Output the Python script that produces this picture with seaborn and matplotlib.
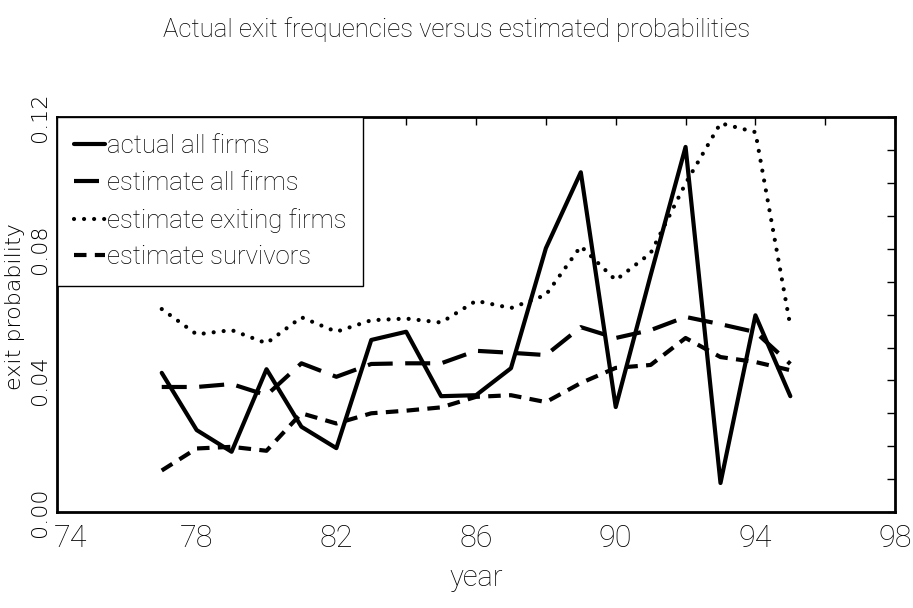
import numpy as np
import pandas as pd
import matplotlib
matplotlib.use("Agg")
import matplotlib.pyplot as plt
import matplotlib.transforms as mtransforms
from matplotlib.ticker import MultipleLocator, FormatStrFormatter
import seaborn as sns

# data
years = list(range(77, 96))
actual_all = [0.0423, 0.0249, 0.0183, 0.0434, 0.0259, 0.0194, 0.0523, 0.0548, 0.0352, 0.0355,
              0.0437, 0.0802, 0.1033, 0.0319, 0.0720, 0.1110, 0.0088, 0.0598, 0.0352]
estimate_all = [0.0380, 0.0380, 0.0389, 0.0355, 0.0452, 0.0411, 0.0450, 0.0452, 0.0452, 0.0490,
                0.0484, 0.0477, 0.0562, 0.0529, 0.0553, 0.0593, 0.0571, 0.0547, 0.0450]
estimate_exiting = [0.0617, 0.0540, 0.0553, 0.0513, 0.0592, 0.0548, 0.0583, 0.0588, 0.0576, 0.0642,
                    0.0620, 0.0660, 0.0808, 0.0705, 0.0787, 0.0999, 0.1182, 0.1155, 0.0565]
estimate_surv = [0.0126, 0.0193, 0.0198, 0.0186, 0.0300, 0.0269, 0.0300, 0.0308, 0.0318, 0.0350,
                 0.0355, 0.0334, 0.0392, 0.0438, 0.0447, 0.0529, 0.0471, 0.0456, 0.0431]

series_names = ["actual all firms", "estimate all firms",
                "estimate exiting firms", "estimate survivors"]
series_values = [actual_all, estimate_all, estimate_exiting, estimate_surv]
x_ticklabels = ["74", "78", "82", "86", "90", "94", "98"]

sns.set_style("white")
plt.rcParams["font.family"] = ["Roboto", "DejaVu Sans"]
plt.rcParams["font.weight"] = "light"
plt.rcParams["text.color"] = "black"
plt.rcParams["xtick.color"] = "black"
plt.rcParams["ytick.color"] = "black"

fig = plt.figure(figsize=(9.13, 6.08), dpi=100)
ax = fig.add_axes([0.0624, 0.158, 0.918, 0.649])

styles = [
    dict(linestyle="-"),
    dict(dashes=(6, 3)),
    dict(dashes=(0.01, 2.4)),
    dict(dashes=(3, 2)),
]
for name, vals, st in zip(series_names, series_values, styles):
    df = pd.DataFrame({"year": years, "value": vals})
    sns.lineplot(data=df, x="year", y="value", ax=ax, color="black",
                 linewidth=3, label=name, **st)

lines = ax.get_lines()
lines[2].set_dash_capstyle("round")
lines[2].set_linewidth(3)

ax.set_xlim(74, 98)
ax.set_ylim(0, 0.12)
ax.xaxis.set_minor_locator(MultipleLocator(2))
ax.set_xticks([74 + 4 * i for i in range(len(x_ticklabels))])
ax.set_xticklabels(x_ticklabels)
ax.yaxis.set_major_locator(MultipleLocator(0.04))
ax.yaxis.set_minor_locator(MultipleLocator(0.01))
ax.yaxis.set_major_formatter(FormatStrFormatter("%.2f"))

ax.tick_params(which="both", direction="in", top=True, right=True,
               length=6, width=1, color="black")
ax.tick_params(axis="x", labelsize=22, pad=9)
ax.tick_params(axis="y", labelsize=16, pad=5)
for lab in ax.get_yticklabels():
    lab.set_rotation(90)
    lab.set_va("center")
    lab.set_family("DejaVu Sans")
    lab.set_fontweight("light")

# the first year label sits a little right of its tick, clear of "0.00"
first = ax.get_xticklabels()[0]
first.set_transform(first.get_transform() +
                    mtransforms.ScaledTranslation(14 / 100, 0, fig.dpi_scale_trans))

for sp in ax.spines.values():
    sp.set_visible(True)
    sp.set_color("black")
    sp.set_linewidth(2)

ax.set_xlabel("")
ax.set_ylabel("")
fig.text(0.016, 0.495, "exit probability", rotation=90, ha="center", va="center",
         fontsize=16, family="DejaVu Sans", fontweight="light")
fig.text(0.521, 0.049, "year", ha="center", va="center", fontsize=21)
fig.text(0.5, 0.951, "Actual exit frequencies versus estimated probabilities",
         ha="center", va="center", fontsize=18.5)

leg = ax.legend(loc="upper left", borderaxespad=0, fontsize=18.5, frameon=True,
                fancybox=False, edgecolor="black", handlelength=1.2,
                handletextpad=0.1, labelspacing=0.5, borderpad=0.65)
leg.get_frame().set_linewidth(1)
leg.get_frame().set_alpha(1)

fig.savefig("out.png", dpi=100)
